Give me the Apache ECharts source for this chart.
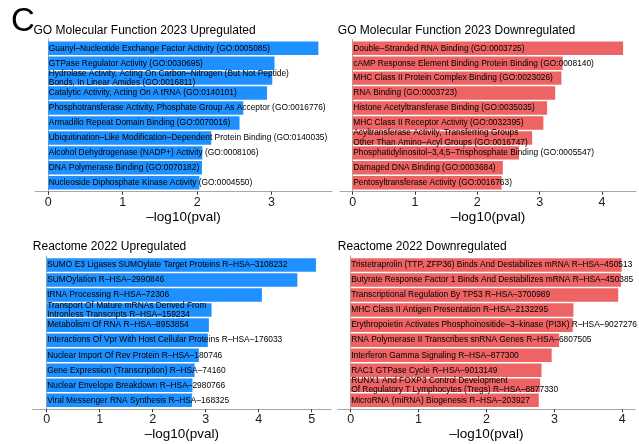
<!DOCTYPE html>
<html>
<head>
<meta charset="utf-8">
<script src="https://cdn.jsdelivr.net/npm/echarts@6/dist/echarts.min.js"></script>
<style>
html,body{margin:0;padding:0;background:#fff;}
#main{width:639px;height:444px;}
</style>
</head>
<body>
<div id="main"></div>
<script>
// ---------- DATA ----------
const goUpCategories = [
  "Guanyl–Nucleotide Exchange Factor Activity (GO:0005085)",
  "GTPase Regulator Activity (GO:0030695)",
  "Hydrolase Activity, Acting On Carbon–Nitrogen (But Not Peptide)\nBonds, In Linear Amides (GO:0016811)",
  "Catalytic Activity, Acting On A tRNA (GO:0140101)",
  "Phosphotransferase Activity, Phosphate Group As Acceptor (GO:0016776)",
  "Armadillo Repeat Domain Binding (GO:0070016)",
  "Ubiquitination–Like Modification–Dependent Protein Binding (GO:0140035)",
  "Alcohol Dehydrogenase (NADP+) Activity (GO:0008106)",
  "DNA Polymerase Binding (GO:0070182)",
  "Nucleoside Diphosphate Kinase Activity (GO:0004550)"
];
const goUpValues = [3.63, 3.04, 3.01, 2.94, 2.62, 2.57, 2.19, 2.07, 2.065, 2.03];

const goDownCategories = [
  "Double–Stranded RNA Binding (GO:0003725)",
  "cAMP Response Element Binding Protein Binding (GO:0008140)",
  "MHC Class II Protein Complex Binding (GO:0023026)",
  "RNA Binding (GO:0003723)",
  "Histone Acetyltransferase Binding (GO:0035035)",
  "MHC Class II Receptor Activity (GO:0032395)",
  "Acyltransferase Activity, Transferring Groups\nOther Than Amino–Acyl Groups (GO:0016747)",
  "Phosphatidylinositol–3,4,5–Trisphosphate Binding (GO:0005547)",
  "Damaged DNA Binding (GO:0003684)",
  "Pentosyltransferase Activity (GO:0016763)"
];
const goDownValues = [4.34, 3.37, 3.35, 3.25, 3.12, 3.06, 2.88, 2.67, 2.41, 2.39];

const reUpCategories = [
  "SUMO E3 Ligases SUMOylate Target Proteins R–HSA–3108232",
  "SUMOylation R–HSA–2990846",
  "tRNA Processing R–HSA–72306",
  "Transport Of Mature mRNAs Derived From\nIntronless Transcripts R–HSA–159234",
  "Metabolism Of RNA R–HSA–8953854",
  "Interactions Of Vpr With Host Cellular Proteins R–HSA–176033",
  "Nuclear Import Of Rev Protein R–HSA–180746",
  "Gene Expression (Transcription) R–HSA–74160",
  "Nuclear Envelope Breakdown R–HSA–2980766",
  "Viral Messenger RNA Synthesis R–HSA–168325"
];
const reUpValues = [5.08, 4.73, 4.06, 3.11, 3.06, 3.04, 2.87, 2.79, 2.75, 2.74];

const reDownCategories = [
  "Tristetraprolin (TTP, ZFP36) Binds And Destabilizes mRNA R–HSA–450513",
  "Butyrate Response Factor 1 Binds And Destabilizes mRNA R–HSA–450385",
  "Transcriptional Regulation By TP53 R–HSA–3700989",
  "MHC Class II Antigen Presentation R–HSA–2132295",
  "Erythropoietin Activates Phosphoinositide–3–kinase (PI3K) R–HSA–9027276",
  "RNA Polymerase II Transcribes snRNA Genes R–HSA–6807505",
  "Interferon Gamma Signaling R–HSA–877300",
  "RAC1 GTPase Cycle R–HSA–9013149",
  "RUNX1 And FOXP3 Control Development\nOf Regulatory T Lymphocytes (Tregs) R–HSA–8877330",
  "MicroRNA (miRNA) Biogenesis R–HSA–203927"
];
const reDownValues = [3.99, 3.98, 3.94, 3.28, 3.27, 3.07, 2.96, 2.81, 2.79, 2.77];

const goUpTicks = [0, 1, 2, 3];
const goDownTicks = [0, 1, 2, 3, 4];
const reUpTicks = [0, 1, 2, 3, 4, 5];
const reDownTicks = [0, 1, 2, 3, 4];

const panelTitles = [
  "GO Molecular Function 2023 Upregulated",
  "GO Molecular Function 2023 Downregulated",
  "Reactome 2022 Upregulated",
  "Reactome 2022 Downregulated"
];
const xAxisTitle = "–log10(pval)";

// ---------- LAYOUT ----------
const FONT = "'Liberation Sans', Arial, Helvetica, sans-serif";
const BLUE = "#1E90FF";
const RED = "#EE6363";

const panels = [
  {cats: goUpCategories, vals: goUpValues, ticks: goUpTicks, color: BLUE,
   left: 35, width: 297, top: 39.3, height: 152.4, min: -0.179, max: 3.813,
   title: panelTitles[0], tx: 33.5, ty: 30.5, nameGap: 19},
  {cats: goDownCategories, vals: goDownValues, ticks: goDownTicks, color: RED,
   left: 340, width: 296, top: 39.3, height: 152.4, min: -0.204, max: 4.547,
   title: panelTitles[1], tx: 337.8, ty: 30.5, nameGap: 19},
  {cats: reUpCategories, vals: reUpValues, ticks: reUpTicks, color: BLUE,
   left: 32.7, width: 298.3, top: 256, height: 153.3, min: -0.264, max: 5.364,
   title: panelTitles[2], tx: 32.8, ty: 247, nameGap: 15},
  {cats: reDownCategories, vals: reDownValues, ticks: reDownTicks, color: RED,
   left: 337.7, width: 297.3, top: 256, height: 153.3, min: -0.191, max: 4.187,
   title: panelTitles[3], tx: 337.8, ty: 247, nameGap: 15}
];

const grid = [], xAxis = [], yAxis = [], series = [], graphic = [];

graphic.push({type: 'text', x: 11, y: 21.5,
  style: {text: 'C', fontSize: 33, fontFamily: FONT, fill: '#000', verticalAlign: 'middle'}});

panels.forEach((p, i) => {
  const unit = p.height / (p.cats.length + 0.2);
  const inset = unit * 0.1;
  grid.push({left: p.left, top: p.top, width: p.width, height: p.height});
  grid.push({left: p.left, top: p.top + inset, width: p.width, height: p.height - 2 * inset});
  const gi = i * 2;
  xAxis.push({
    gridIndex: gi, type: 'value', min: p.min, max: p.max,
    axisLine: {show: true, lineStyle: {color: '#a8a8a8', width: 1}},
    axisTick: {show: true, customValues: p.ticks, length: 3, lineStyle: {color: '#333', width: 1}},
    axisLabel: {show: true, customValues: p.ticks, fontSize: 12.5, color: '#1a1a1a', fontFamily: FONT, margin: 4},
    splitLine: {show: false},
    name: xAxisTitle, nameLocation: 'middle', nameGap: p.nameGap,
    nameTextStyle: {fontSize: 13.5, color: '#000', fontFamily: FONT}
  });
  yAxis.push({
    gridIndex: gi, type: 'value', min: 0, max: 1,
    axisLine: {show: true, lineStyle: {color: '#a8a8a8', width: 1}},
    axisTick: {show: false}, axisLabel: {show: false}, splitLine: {show: false}
  });
  xAxis.push({gridIndex: gi + 1, type: 'value', min: p.min, max: p.max, show: false, splitLine: {show: false}});
  yAxis.push({gridIndex: gi + 1, type: 'category', data: p.cats, inverse: true, show: false});
  series.push({
    type: 'bar', xAxisIndex: gi + 1, yAxisIndex: gi + 1,
    data: p.vals, barCategoryGap: '10%',
    itemStyle: {color: p.color},
    label: {show: true, position: 'insideLeft', distance: 0.5, formatter: '{b}',
      fontSize: 8.4, lineHeight: 9.8, color: '#000', fontFamily: FONT},
    silent: true, animation: false
  });
  graphic.push({type: 'text', x: p.tx, y: p.ty,
    style: {text: p.title, fontSize: 12, fontFamily: FONT, fill: '#000', verticalAlign: 'middle'}});
});

const chart = echarts.init(document.getElementById('main'), null, {renderer: 'canvas'});
chart.setOption({
  backgroundColor: '#fff',
  animation: false,
  grid, xAxis, yAxis, series, graphic
});
</script>
</body>
</html>
